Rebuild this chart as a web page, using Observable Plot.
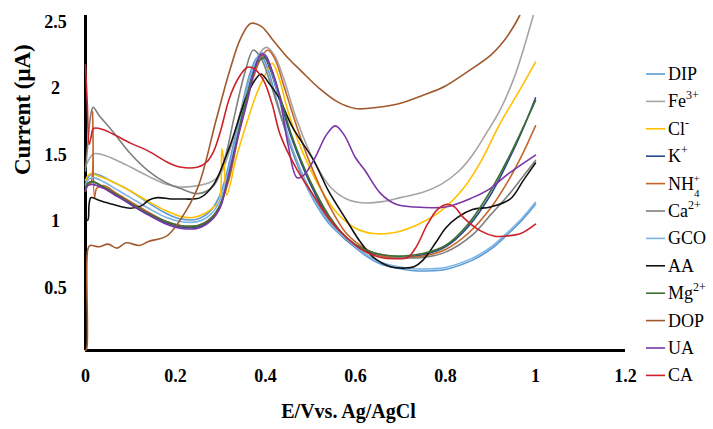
<!DOCTYPE html>
<html>
<head>
<meta charset="utf-8">
<script src="https://cdn.jsdelivr.net/npm/d3@7"></script>
<script src="https://cdn.jsdelivr.net/npm/@observablehq/plot@0.6"></script>
<style>
  html, body { margin: 0; padding: 0; background: #fff; }
  #wrap { position: relative; width: 713px; height: 429px; overflow: hidden; }
  #chart { position: absolute; left: 0; top: 0; }
  #legend { position: absolute; left: 640px; top: 0; }
</style>
</head>
<body>
<div id="wrap"><div id="chart"></div><div id="legend"></div></div>
<script>
// ---- data ----
const categories = ["DIP","Fe3+","Cl-","K+","NH4+","Ca2+","GCO","AA","Mg2+","DOP","UA","CA"];
// legend text pieces: [base, subscript, superscript]
const legendParts = [["DIP","",""],["Fe","","3+"],["Cl","","-"],["K","","+"],["NH","4","+"],["Ca","","2+"],
  ["GCO","",""],["AA","",""],["Mg","","2+"],["DOP","",""],["UA","",""],["CA","",""]];
const colors = ["#5B9BD5","#A5A5A5","#FFC000","#2A4A8A","#C5652A","#7F7F7F","#7DB3E3","#111111","#3F6E32","#A0592C","#7A35A8","#CC2229"];
const xTicks = [0, 0.2, 0.4, 0.6, 0.8, 1, 1.2];
const yTicks = [0.5, 1, 1.5, 2, 2.5];
const xLabel = "E/Vvs. Ag/AgCl";
const yLabel = "Current (\u03bcA)";

const DIP = [[0,1.25],[0.005,1.3],[0.015,1.33],[0.03,1.32],[0.06,1.27],[0.1,1.2],[0.14,1.11],[0.18,1.03],[0.21,0.99],[0.25,0.99],[0.28,1.06],[0.3,1.18],[0.32,1.42],[0.345,1.8],[0.365,2.08],[0.38,2.2],[0.39,2.22],[0.405,2.12],[0.425,1.88],[0.449,1.6],[0.48,1.32],[0.507,1.13],[0.54,0.96],[0.58,0.83],[0.62,0.72],[0.656,0.65],[0.69,0.62],[0.73,0.6],[0.77,0.6],[0.8,0.61],[0.86,0.68],[0.9,0.76],[0.94,0.88],[0.97,0.98],[1.0,1.1]];
const FE = [[0,1.38],[0.005,1.42],[0.018,1.48],[0.04,1.47],[0.07,1.43],[0.1,1.38],[0.14,1.31],[0.18,1.25],[0.21,1.23],[0.25,1.24],[0.28,1.27],[0.3,1.33],[0.32,1.5],[0.345,1.8],[0.37,2.1],[0.39,2.25],[0.403,2.28],[0.42,2.22],[0.44,2.05],[0.47,1.73],[0.507,1.43],[0.544,1.23],[0.58,1.14],[0.62,1.11],[0.66,1.12],[0.7,1.15],[0.75,1.19],[0.79,1.25],[0.83,1.35],[0.86,1.47],[0.89,1.63],[0.92,1.8],[0.95,2.03],[0.97,2.23],[0.995,2.52]];
const CL = [[0,1.28],[0.01,1.33],[0.03,1.31],[0.06,1.27],[0.1,1.2],[0.14,1.12],[0.18,1.05],[0.21,1.01],[0.24,1.0],[0.265,1.03],[0.285,1.08],[0.297,1.12],[0.303,1.52],[0.308,1.4],[0.314,1.17],[0.335,1.45],[0.36,1.73],[0.38,1.93],[0.396,2.05],[0.415,2.16],[0.43,2.05],[0.45,1.8],[0.478,1.53],[0.52,1.23],[0.56,1.03],[0.6,0.92],[0.64,0.88],[0.69,0.89],[0.74,0.95],[0.79,1.05],[0.84,1.22],[0.88,1.43],[0.92,1.7],[0.96,1.93],[1.0,2.17]];
const K = [[0,1.2],[0.005,1.25],[0.015,1.27],[0.04,1.23],[0.07,1.17],[0.1,1.1],[0.14,1.02],[0.18,0.96],[0.21,0.93],[0.25,0.93],[0.28,0.99],[0.3,1.1],[0.32,1.35],[0.345,1.75],[0.37,2.08],[0.385,2.2],[0.395,2.22],[0.41,2.12],[0.43,1.9],[0.46,1.58],[0.5,1.25],[0.54,1.0],[0.58,0.83],[0.62,0.75],[0.66,0.71],[0.7,0.7],[0.75,0.72],[0.8,0.78],[0.85,0.93],[0.9,1.17],[0.94,1.43],[0.97,1.65],[1.0,1.9]];
const NH4 = [[0,1.2],[0.005,1.25],[0.012,1.26],[0.016,1.8],[0.02,1.15],[0.025,1.22],[0.04,1.24],[0.07,1.18],[0.1,1.12],[0.14,1.04],[0.18,0.97],[0.21,0.94],[0.25,0.94],[0.28,1.0],[0.3,1.1],[0.32,1.3],[0.345,1.7],[0.37,2.02],[0.39,2.2],[0.405,2.26],[0.42,2.2],[0.44,2.0],[0.47,1.68],[0.5,1.4],[0.54,1.1],[0.58,0.88],[0.62,0.77],[0.66,0.71],[0.7,0.7],[0.75,0.71],[0.8,0.76],[0.85,0.88],[0.9,1.07],[0.94,1.28],[0.97,1.47],[1.0,1.69]];
const CA2 = [[0,1.35],[0.005,1.55],[0.012,1.78],[0.017,1.83],[0.03,1.77],[0.06,1.65],[0.1,1.48],[0.14,1.35],[0.18,1.26],[0.21,1.22],[0.25,1.18],[0.285,1.24],[0.31,1.45],[0.33,1.75],[0.355,2.1],[0.373,2.26],[0.39,2.2],[0.41,2.02],[0.44,1.7],[0.47,1.42],[0.5,1.2],[0.54,0.98],[0.58,0.84],[0.62,0.76],[0.66,0.72],[0.7,0.7],[0.75,0.7],[0.8,0.74],[0.86,0.87],[0.9,1.02],[0.94,1.17],[0.97,1.3],[1.0,1.43]];
const GCO = [[0,1.24],[0.005,1.28],[0.015,1.3],[0.04,1.27],[0.07,1.21],[0.1,1.15],[0.14,1.07],[0.18,1.0],[0.21,0.97],[0.25,0.97],[0.28,1.03],[0.3,1.14],[0.32,1.38],[0.345,1.76],[0.37,2.1],[0.385,2.22],[0.395,2.24],[0.41,2.14],[0.43,1.9],[0.452,1.6],[0.485,1.3],[0.51,1.12],[0.545,0.95],[0.585,0.82],[0.625,0.72],[0.66,0.66],[0.695,0.63],[0.73,0.615],[0.77,0.615],[0.8,0.625],[0.86,0.695],[0.9,0.775],[0.94,0.895],[0.97,0.995],[1.0,1.115]];
const AA = [[0,0.98],[0.005,0.98],[0.008,1.1],[0.012,1.15],[0.03,1.13],[0.06,1.1],[0.1,1.07],[0.125,1.09],[0.14,1.13],[0.16,1.15],[0.19,1.14],[0.21,1.14],[0.255,1.15],[0.285,1.25],[0.32,1.53],[0.36,1.93],[0.38,2.05],[0.39,2.08],[0.41,2.0],[0.43,1.9],[0.46,1.68],[0.507,1.43],[0.54,1.2],[0.58,0.98],[0.61,0.82],[0.64,0.7],[0.678,0.63],[0.71,0.62],[0.73,0.63],[0.75,0.68],[0.78,0.82],[0.8,0.92],[0.826,1.0],[0.86,1.06],[0.9,1.08],[0.944,1.14],[0.973,1.28],[1.0,1.41]];
const MG = [[0,1.22],[0.005,1.26],[0.015,1.27],[0.04,1.23],[0.07,1.17],[0.1,1.11],[0.14,1.03],[0.18,0.97],[0.21,0.94],[0.25,0.94],[0.28,1.0],[0.3,1.1],[0.32,1.33],[0.345,1.72],[0.37,2.05],[0.385,2.18],[0.4,2.2],[0.415,2.1],[0.435,1.88],[0.46,1.6],[0.5,1.27],[0.54,1.02],[0.58,0.85],[0.62,0.76],[0.66,0.72],[0.7,0.71],[0.75,0.73],[0.8,0.79],[0.85,0.95],[0.9,1.2],[0.94,1.45],[0.97,1.66],[1.0,1.88]];
const DOP = [[0,0.0],[0.003,0.02],[0.005,0.76],[0.01,0.79],[0.03,0.78],[0.05,0.8],[0.07,0.77],[0.09,0.81],[0.12,0.79],[0.14,0.82],[0.18,0.86],[0.21,0.98],[0.25,1.23],[0.29,1.73],[0.32,2.1],[0.345,2.35],[0.367,2.46],[0.39,2.44],[0.42,2.32],[0.45,2.2],[0.48,2.1],[0.52,1.97],[0.56,1.87],[0.6,1.82],[0.65,1.83],[0.7,1.86],[0.75,1.92],[0.8,1.99],[0.85,2.1],[0.9,2.22],[0.93,2.33],[0.95,2.43],[0.965,2.52]];
const UA = [[0,1.2],[0.005,1.24],[0.015,1.25],[0.04,1.22],[0.07,1.16],[0.1,1.1],[0.14,1.02],[0.18,0.95],[0.21,0.92],[0.25,0.92],[0.28,0.98],[0.3,1.08],[0.315,1.28],[0.34,1.62],[0.36,1.88],[0.375,2.1],[0.39,2.23],[0.4,2.22],[0.415,2.1],[0.433,1.88],[0.45,1.55],[0.47,1.3],[0.485,1.32],[0.51,1.45],[0.535,1.62],[0.555,1.69],[0.575,1.62],[0.6,1.45],[0.62,1.36],[0.656,1.18],[0.69,1.1],[0.73,1.08],[0.8,1.08],[0.86,1.15],[0.9,1.22],[0.94,1.33],[1.0,1.47]];
const CA = [[0,2.15],[0.004,1.85],[0.008,1.55],[0.012,1.6],[0.018,1.67],[0.04,1.66],[0.06,1.63],[0.1,1.56],[0.14,1.5],[0.18,1.42],[0.21,1.38],[0.25,1.38],[0.27,1.42],[0.285,1.5],[0.3,1.65],[0.32,1.9],[0.34,2.05],[0.36,2.13],[0.375,2.12],[0.396,2.03],[0.415,1.85],[0.433,1.62],[0.47,1.36],[0.51,1.15],[0.544,0.98],[0.58,0.85],[0.618,0.75],[0.656,0.7],[0.69,0.69],[0.716,0.7],[0.735,0.78],[0.76,0.95],[0.782,1.06],[0.804,1.1],[0.82,1.08],[0.84,1.0],[0.878,0.9],[0.91,0.86],[0.93,0.86],[0.967,0.88],[1.0,0.95]];

const seriesValues = [DIP, FE, CL, K, NH4, CA2, GCO, AA, MG, DOP, UA, CA];

// ---- build ----
const rows = categories.flatMap((c, i) => seriesValues[i].map(([x, y]) => ({series: c, x, y})));
const FONT = "'Liberation Serif', 'Times New Roman', serif";

const chart = Plot.plot({
  width: 640,
  height: 429,
  marginLeft: 85,
  marginRight: 15,
  marginTop: 15,
  marginBottom: 79,
  style: {fontFamily: FONT, fontSize: "18px", fontWeight: "bold", color: "#000", background: "transparent"},
  x: {domain: [0, 1.2]},
  y: {domain: [0, 2.52]},
  color: {domain: categories, range: colors},
  marks: [
    Plot.axisX({ticks: xTicks, tickSize: 0, tickPadding: 19, tickFormat: d => String(d), label: null, fontSize: 18, fontWeight: "bold"}),
    Plot.axisY({ticks: yTicks, tickSize: 0, tickPadding: 30, textAnchor: "middle", dy: 4, tickFormat: d => String(d), label: null, fontSize: 18, fontWeight: "bold"}),
    Plot.ruleX([0], {stroke: "#000", strokeWidth: 3}),
    Plot.ruleY([0], {stroke: "#000", strokeWidth: 3}),
    Plot.line(rows, {x: "x", y: "y", z: "series", stroke: "series", curve: "catmull-rom", strokeWidth: 1.6}),
    Plot.text([xLabel], {frameAnchor: "bottom", dx: -7, dy: 61, lineAnchor: "middle", fontSize: 20, fontWeight: "bold"}),
    Plot.text([yLabel], {frameAnchor: "left", dx: -63, dy: -8, rotate: -90, lineAnchor: "middle", fontSize: 23, fontWeight: "bold"})
  ]
});
document.getElementById("chart").appendChild(chart);

// legend as a small svg to the right of the plot
const legendTop = 74, legendStep = 27.4;
const lsvg = d3.select("#legend").append("svg")
  .attr("width", 73).attr("height", 429)
  .style("font-family", FONT).style("font-size", "18px").style("font-weight", "normal");
categories.forEach((c, i) => {
  const cy = legendTop + i * legendStep;
  const g = lsvg.append("g").attr("transform", `translate(0,${cy})`);
  g.append("line").attr("x1", 6).attr("x2", 25).attr("y1", 0).attr("y2", 0)
    .attr("stroke", colors[i]).attr("stroke-width", 1.6);
  const [base, sub, sup] = legendParts[i];
  const t = g.append("text").attr("x", 28).attr("y", 6).attr("fill", "#000");
  t.append("tspan").text(base);
  if (sub) {
    t.append("tspan").attr("font-size", 11).attr("dy", 7).text(sub);
    t.append("tspan").attr("font-size", 11).attr("dx", -6).attr("dy", -15).text(sup);
  } else if (sup) {
    t.append("tspan").attr("font-size", 12).attr("dy", -8).text(sup);
  }
});
</script>
</body>
</html>
